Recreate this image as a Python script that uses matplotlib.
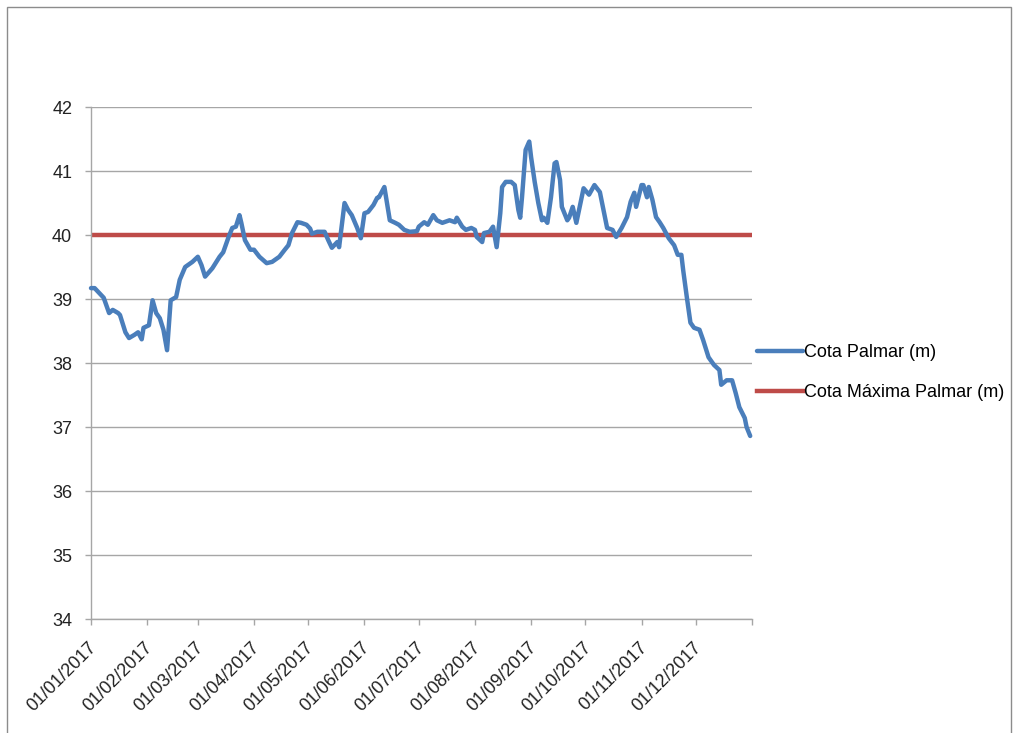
import numpy as np
import pandas as pd
import matplotlib
matplotlib.use('Agg')
import matplotlib.pyplot as plt
import matplotlib.transforms as mtransforms
from matplotlib.patches import Rectangle

# Datos (día del año desde 01/01/2017, cota en m)
dias = [0, 2, 7, 10, 12, 15, 16, 19, 21, 24, 26, 28, 29, 32, 34, 36, 38, 40, 42,
        44, 47, 49, 52, 56, 59, 61, 63, 67, 71, 73, 76, 78, 80, 82, 83, 85, 88,
        90, 93, 97, 100, 104, 107, 109, 111, 114, 116, 119, 121, 122, 125, 129,
        131, 133, 136, 137, 140, 142, 144, 147, 149, 151, 153, 156, 158, 159,
        162, 163, 165, 168, 170, 173, 176, 180, 181, 184, 186, 189, 191, 194,
        198, 201, 202, 205, 207, 210, 212, 213, 216, 217, 220, 222, 224, 226,
        227, 229, 232, 234, 236, 237, 238, 240, 242, 243, 245, 247, 249, 250,
        252, 254, 256, 257, 259, 260, 263, 264, 266, 268, 271, 272, 275, 278,
        281, 283, 285, 288, 290, 293, 296, 298, 300, 301, 304, 305, 307, 308,
        310, 312, 314, 316, 319, 322, 324, 326, 327, 329, 331, 333, 336, 338,
        341, 344, 347, 348, 351, 354, 356, 358, 361, 362, 364]
cota = [39.17, 39.17, 39.02, 38.78, 38.83, 38.78, 38.75, 38.48, 38.39, 38.44,
        38.48, 38.37, 38.55, 38.59, 38.98, 38.78, 38.70, 38.52, 38.20, 38.98,
        39.03, 39.30, 39.50, 39.58, 39.66, 39.53, 39.35, 39.48, 39.66, 39.73,
        39.97, 40.11, 40.13, 40.31, 40.19, 39.92, 39.77, 39.77, 39.66, 39.56,
        39.58, 39.66, 39.77, 39.84, 40.03, 40.20, 40.19, 40.16, 40.10, 40.02,
        40.05, 40.05, 39.92, 39.80, 39.89, 39.81, 40.50, 40.39, 40.31, 40.11,
        39.95, 40.34, 40.36, 40.47, 40.58, 40.59, 40.75, 40.58, 40.23, 40.19,
        40.16, 40.08, 40.05, 40.06, 40.13, 40.20, 40.16, 40.31, 40.23, 40.19,
        40.23, 40.20, 40.27, 40.13, 40.08, 40.11, 40.08, 39.97, 39.89, 40.03,
        40.05, 40.13, 39.81, 40.34, 40.75, 40.83, 40.83, 40.78, 40.39, 40.27,
        40.59, 41.33, 41.46, 41.22, 40.83, 40.50, 40.23, 40.27, 40.19, 40.59,
        41.12, 41.14, 40.86, 40.44, 40.23, 40.27, 40.44, 40.19, 40.59, 40.73,
        40.63, 40.78, 40.67, 40.39, 40.11, 40.08, 39.97, 40.11, 40.28, 40.52,
        40.66, 40.44, 40.78, 40.78, 40.59, 40.75, 40.55, 40.28, 40.20, 40.11,
        39.95, 39.84, 39.69, 39.69, 39.45, 39.03, 38.63, 38.55, 38.52, 38.36,
        38.09, 37.97, 37.89, 37.66, 37.73, 37.73, 37.53, 37.31, 37.14, 37.00,
        36.86]
cota_maxima = 40.0

inicio = pd.Timestamp('2017-01-01')
fin = pd.Timestamp('2018-01-01')
fechas = inicio + pd.to_timedelta(dias, unit='D')
meses = pd.date_range('2017-01-01', '2018-01-01', freq='MS')
etiquetas = [m.strftime('%d/%m/%Y') for m in meses[:-1]] + ['']

plt.rcParams['font.family'] = ['Liberation Sans', 'DejaVu Sans']

fig = plt.figure(figsize=(10.17, 7.33), dpi=100)
ax = fig.add_axes([91 / 1017, 1 - 619 / 733, (752 - 91) / 1017, (619 - 107) / 733])

# Marco del gráfico (estilo Excel)
fig.patches.append(Rectangle((7 / 1017, -0.01), (1011 - 7) / 1017, 1.01 - 7 / 733,
                             transform=fig.transFigure, fill=False,
                             edgecolor='#8c8c8c', linewidth=1))

ax.plot(fechas, cota, color='#4a7ebb', linewidth=3.2, solid_joinstyle='round',
        solid_capstyle='round', label='Cota Palmar (m)', zorder=3, clip_on=False)
ax.plot([inicio, fin], [cota_maxima, cota_maxima], color='#be4b48', linewidth=3.2,
        label='Cota Máxima Palmar (m)', zorder=2)

ax.set_ylim(34, 42)
ax.set_yticks(range(34, 43))
ax.set_xlim(inicio, fin)
ax.set_xticks(meses)
ax.set_xticklabels(etiquetas)

ax.grid(axis='y', color='#a6a6a6', linewidth=1)
ax.set_axisbelow(True)
for s in ['top', 'right']:
    ax.spines[s].set_visible(False)
for s in ['left', 'bottom']:
    ax.spines[s].set_color('#a6a6a6')
    ax.spines[s].set_linewidth(1)

ax.tick_params(axis='both', colors='#a6a6a6', length=4.5, width=1,
               labelcolor='#222222', labelsize=13, pad=9)
ax.tick_params(axis='x', pad=14)
plt.setp(ax.get_xticklabels(), rotation=45, ha='right', va='center',
         rotation_mode='anchor')
# desplazamiento leve hacia la derecha de las fechas
desp = mtransforms.ScaledTranslation(3 / 100, 0, fig.dpi_scale_trans)
for lab in ax.get_xticklabels():
    lab.set_transform(lab.get_transform() + desp)

ax.legend(loc='upper left', bbox_to_anchor=(757 / 1017, 1 - 344 / 733),
          bbox_transform=fig.transFigure, frameon=False, fontsize=13,
          handlelength=2.55, handletextpad=0.05, borderpad=0, borderaxespad=0,
          labelspacing=1.3)

fig.savefig('out.png', dpi=100)
